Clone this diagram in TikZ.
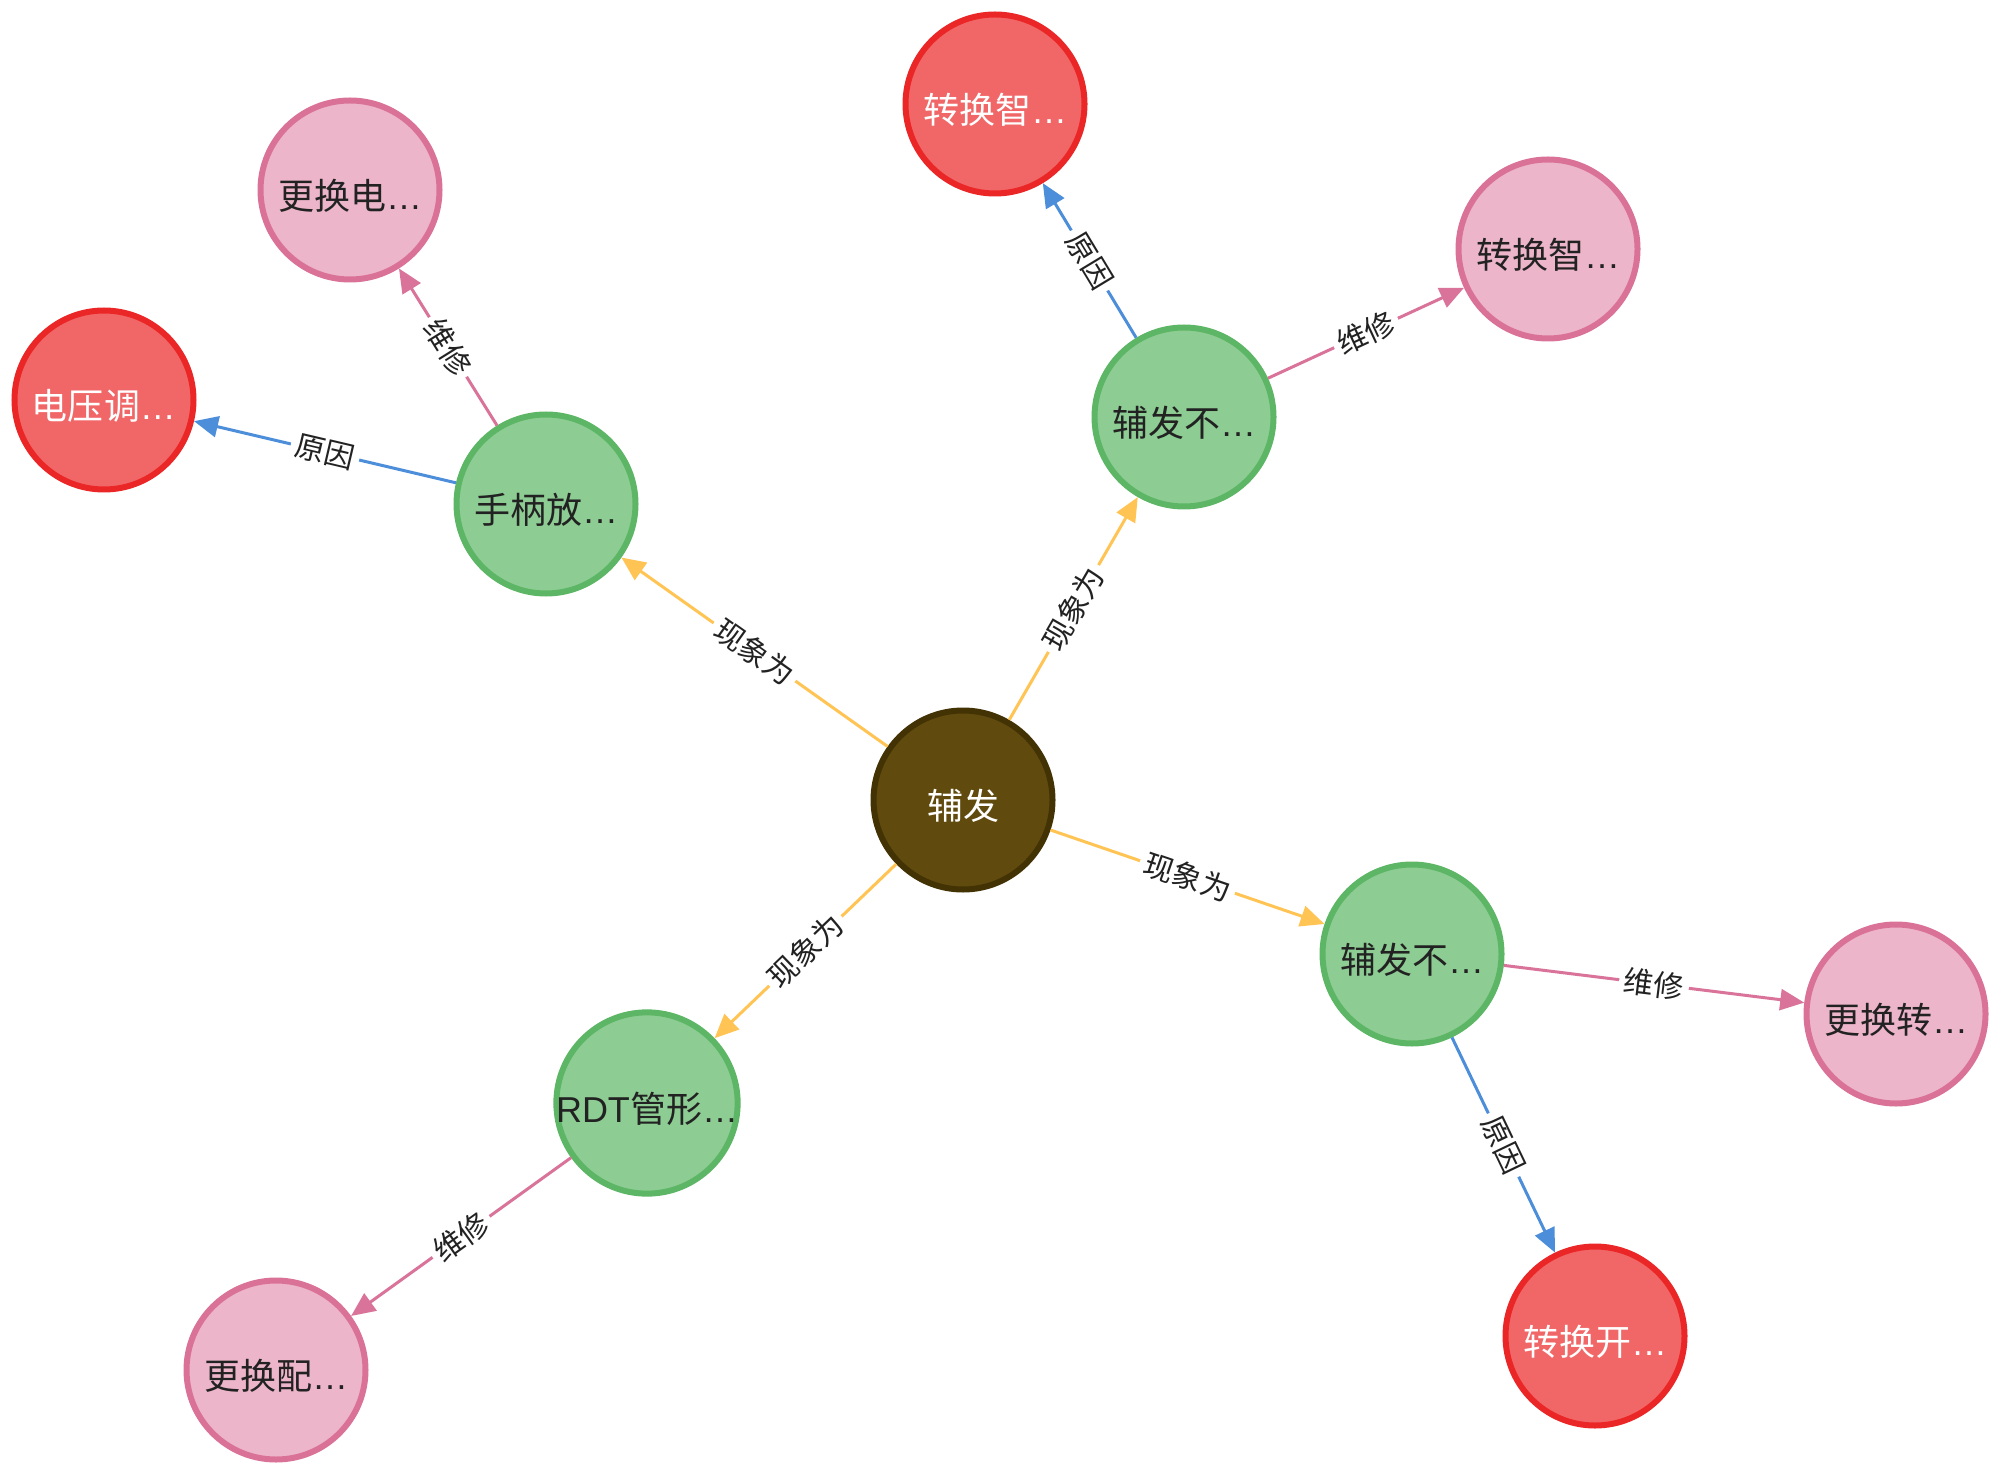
\documentclass[tikz,border=0pt]{standalone}
\usepackage{fontspec}
\setmainfont{Liberation Sans}
\newfontfamily\cjk{Noto Sans CJK SC}
\usetikzlibrary{arrows.meta}
\definecolor{brownfill}{HTML}{604A0E}
\definecolor{brownline}{HTML}{423204}
\definecolor{greenfill}{HTML}{8DCC93}
\definecolor{greenline}{HTML}{5DB665}
\definecolor{redfill}{HTML}{F16667}
\definecolor{redline}{HTML}{EB2627}
\definecolor{pinkfill}{HTML}{ECB5C9}
\definecolor{pinkline}{HTML}{DA7298}
\definecolor{eyellow}{HTML}{FFC454}
\definecolor{eblue}{HTML}{4C8EDA}
\definecolor{epink}{HTML}{D9739A}
\definecolor{darktext}{HTML}{222222}
\newcommand{\nlab}[1]{\raisebox{-9.6pt}[0pt][0pt]{#1}}
\tikzset{
  basenode/.style={circle, minimum size=89.5pt, inner sep=0pt, line width=3pt,
    font=\fontsize{18}{20}\selectfont},
  brownnode/.style={basenode, fill=brownfill, draw=brownline, text=white},
  greennode/.style={basenode, fill=greenfill, draw=greenline, text=darktext},
  rednode/.style={basenode, fill=redfill, draw=redline, text=white},
  pinknode/.style={basenode, fill=pinkfill, draw=pinkline, text=darktext},
  edgebase/.style={line width=1.5pt, -{Triangle[length=12pt,width=10.5pt]}},
  eyel/.style={edgebase, draw=eyellow, fill=eyellow},
  eblu/.style={edgebase, draw=eblue, fill=eblue},
  epnk/.style={edgebase, draw=epink, fill=epink},
  elab/.style={sloped, fill=white, inner sep=2.5pt, text=darktext,
    font=\cjk\fontsize{15}{16}\selectfont},
}
\begin{document}
\begin{tikzpicture}[x=0.5pt,y=-0.5pt]
\useasboundingbox (0,0) rectangle (2000,1475);
\node[brownnode] (c) at (963,800) {\nlab{\cjk 辅发}};
\node[greennode] (g1) at (546,504) {\nlab{{\cjk 手柄放}…}};
\node[greennode] (g2) at (1184,417) {\nlab{{\cjk 辅发不}…}};
\node[greennode] (g3) at (1412,954) {\nlab{{\cjk 辅发不}…}};
\node[greennode] (g4) at (647,1103) {\nlab{RDT{\cjk 管形}…}};
\node[pinknode] (p1) at (350,190) {\nlab{{\cjk 更换电}…}};
\node[rednode] (r1) at (104,400) {\nlab{{\cjk 电压调}…}};
\node[rednode] (r2) at (995,104) {\nlab{{\cjk 转换智}…}};
\node[pinknode] (p2) at (1548,249) {\nlab{{\cjk 转换智}…}};
\node[pinknode] (p3) at (1896,1014) {\nlab{{\cjk 更换转}…}};
\node[rednode] (r3) at (1595,1336) {\nlab{{\cjk 转换开}…}};
\node[pinknode] (p4) at (276,1370) {\nlab{{\cjk 更换配}…}};
\draw[eyel] (c) -- node[elab]{现象为} (g1);
\draw[eyel] (c) -- node[elab]{现象为} (g2);
\draw[eyel] (c) -- node[elab]{现象为} (g3);
\draw[eyel] (c) -- node[elab]{现象为} (g4);
\draw[eblu] (g1) -- node[elab]{原因} (r1);
\draw[epnk] (g1) -- node[elab]{维修} (p1);
\draw[eblu] (g2) -- node[elab]{原因} (r2);
\draw[epnk] (g2) -- node[elab]{维修} (p2);
\draw[epnk] (g3) -- node[elab]{维修} (p3);
\draw[eblu] (g3) -- node[elab]{原因} (r3);
\draw[epnk] (g4) -- node[elab]{维修} (p4);
\end{tikzpicture}
\end{document}
